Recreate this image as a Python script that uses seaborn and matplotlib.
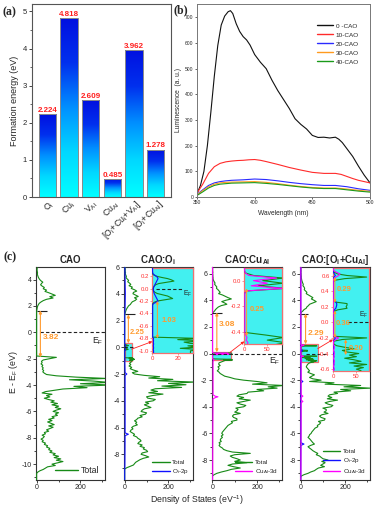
import numpy as np
import pandas as pd
import matplotlib
matplotlib.use('Agg')
import matplotlib.pyplot as plt
import matplotlib.transforms as mtransforms
import seaborn as sns
from matplotlib.colors import LinearSegmentedColormap
from matplotlib.patches import Rectangle
from matplotlib.lines import Line2D
from matplotlib.ticker import MultipleLocator, FormatStrFormatter

sns.set_style('ticks')
plt.rcParams['font.family'] = ['Liberation Sans', 'DejaVu Sans']
plt.rcParams['mathtext.fontset'] = 'custom'
plt.rcParams['mathtext.rm'] = 'Liberation Sans'
plt.rcParams['mathtext.it'] = 'Liberation Sans:italic'
plt.rcParams['mathtext.bf'] = 'Liberation Sans:bold'
plt.rcParams['mathtext.default'] = 'regular'
plt.rcParams['axes.unicode_minus'] = False

# ---------------- (a) formation energies ----------------
defects = [r'O$_i$', r'Cu$_i$', r'V$_{Al}$', r'Cu$_{Al}$',
           r'[O$_i$+Cu$_i$+V$_{Al}$]', r'[O$_i$+Cu$_{Al}$]']
formation_energy = [2.224, 4.818, 2.609, 0.485, 3.962, 1.278]
formation_labels = ['2.224', '4.818', '2.609', '0.485', '3.962', '1.278']

# ---------------- (b) luminescence ----------------
pl_names = ['0 -CAO', '10-CAO', '20-CAO', '30-CAO', '40-CAO']
wl_0cao = [350, 353, 356, 359, 362, 365, 368, 371, 374, 377, 379, 381, 384, 387,
           390, 393, 396, 400, 405, 410, 415, 420, 425, 430, 435, 440, 445, 450,
           455, 460, 465, 470, 473, 476, 480, 485, 490, 495, 500]
pl_0cao = [13, 45, 100, 200, 330, 470, 590, 670, 705, 722, 726, 715, 675, 645,
           625, 612, 592, 555, 525, 500, 455, 415, 380, 345, 305, 283, 265, 240,
           232, 233, 230, 233, 225, 212, 188, 158, 120, 85, 55]
wl_10cao = [350, 355, 360, 365, 370, 375, 380, 385, 390, 395, 400, 405, 410, 420,
            430, 440, 450, 460, 470, 475, 480, 485, 490, 495, 500]
pl_10cao = [15, 50, 92, 118, 131, 137, 140, 142, 143, 145, 146, 143, 138, 127,
            115, 105, 96, 92, 92, 88, 80, 72, 65, 60, 55]
wl_low = [350, 355, 360, 365, 370, 375, 380, 390, 400, 410, 420, 430, 440, 450,
          460, 470, 480, 490, 500]
pl_20cao = [10, 28, 45, 55, 60, 63, 65, 67, 70, 68, 63, 57, 52, 48, 45, 45, 40, 32, 26]
pl_30cao = [8, 25, 40, 50, 55, 57, 58, 59, 60, 57, 52, 46, 41, 37, 35, 35, 31, 26, 22]
pl_40cao = [6, 20, 35, 45, 50, 52, 54, 55, 56, 53, 49, 44, 39, 35, 33, 33, 28, 23, 19]
pl_colors = ['#111111', '#FF2a2a', '#2a2aFF', '#FF9a1e', '#1a9a1a']

# ---------------- (c) density of states ----------------
panel_titles = ['CAO', r'CAO:O$_\mathbf{i}$', r'CAO:Cu$_\mathbf{Al}$',
                r'CAO:[O$_\mathbf{i}$+Cu$_\mathbf{Al}$]']
gap_values = ['3.82', '2.25', '3.08', '2.29']
cbm_energy = [1.65, 2.45, 3.08, 3.00]
gap_bottom = [-1.90, 0.30, 0.10, 0.70]

# panel 1: CAO (total), 0.1 eV steps
cao_tot_cb = [3, 2, 2, 3, 4, 3, 5, 7, 10, 14, 20, 28, 22, 18, 25, 35, 30, 45, 38, 55,
              70, 85, 60, 75, 45, 30, 20, 12, 8, 5, 3, 2, 1, 0]          # from 4.9 eV
cao_tot_vb = [0, 90, 60, 30, 22, 25, 20, 28, 24, 30, 26, 32, 28, 35, 45, 90, 180, 320,
              150, 260, 330, 200, 340, 170, 230, 120, 80, 40, 25, 70, 45, 60, 35, 55,
              80, 65, 95, 70, 100, 85, 110, 90, 75, 100, 85, 95, 70, 80, 55, 70, 50,
              65, 80, 55, 75, 60, 45, 55, 35, 40, 25, 35, 30, 20, 30, 25, 40, 35, 50,
              45, 60, 55, 70, 60, 85, 75, 100, 80, 110, 90, 120, 95, 70, 85, 50, 40,
              30, 15, 5, 0, 0]                                             # from -1.8 eV

# panel 2: CAO:Oi
oi_tot_cb = [3, 2, 3, 2, 4, 3, 5, 8, 6, 12, 18, 14, 22, 28, 20, 35, 30, 45, 55, 40, 38,
             50, 62, 45, 55, 48, 35, 30, 26, 18, 14, 10, 7, 5, 3, 1, 0]    # from 6.0 eV
oi_tot_gap = ([0, 0, 0, 0, 1, 3, 7, 12, 15, 17, 11, 5, 2.5, 1.5, 1, 0.8, 0.8, 1, 2, 4,
               8, 12, 14, 16, 10, 4, 1.5, 0.5] + [0] * 27 +
              [36, 20, 40, 25, 30, 45, 28, 35, 22, 38, 30])                # 0.30 eV, 0.02 steps
oi_tot_vb = [30, 22, 28, 20, 32, 25, 40, 60, 35, 45, 90, 160, 110, 220, 150, 320, 200,
             280, 170, 260, 140, 120, 150, 110, 175, 130, 100, 105, 140, 130, 95, 110,
             90, 105, 120, 90, 80, 75, 100, 95, 70, 80, 60, 55, 45, 55, 50, 58, 40, 32,
             38, 28, 25, 35, 45, 40, 55, 60, 70, 75, 65, 60, 80, 70, 90, 85, 100, 105,
             80, 75, 95, 110, 85, 70, 60, 50, 45, 40, 25, 10, 0]         # from -1.1 eV
oi_p_cb_E = [6.0, 5.0, 4.0, 3.0, 2.4]
oi_p_cb = [1, 2, 3, 2, 0.5]
oi_p_gap = ([0.2, 0.2, 0.3, 0.5, 1.5, 3, 4, 4.5, 4, 3.5, 3, 2.5, 2, 1.5, 1, 0.8, 0.8, 1,
             1.2, 1.5, 2, 2.5, 3, 3.5, 4, 4.5, 3, 1, 0.3] + [0.3] * 26 +
            [1, 0.8, 1, 0.8, 1, 1, 0.8, 1, 1, 0.8, 1])
oi_p_vb_E = [-1.1, -1.9, -2.0, -2.1, -4.0, -6.4, -6.5, -6.6, -9.0, -9.1, -9.9]
oi_p_vb = [1, 2, 10, 2, 2, 2, 17, 2, 1, 0.3, 0.3]

# panel 3: CAO:CuAl
cual_tot_cb = [1, 1, 1, 1, 2, 1, 2, 2, 3, 3, 5, 8, 12, 10, 15, 20, 18, 25, 30, 35, 28,
               45, 57, 70, 85, 60, 42, 55, 65, 40, 27, 20, 14, 10, 4, 0]   # from 6.5 eV
cual_tot_gap = ([0, 0, 2, 20, 85, 40, 85, 30, 90, 5] + [0] * 16 +
                [45, 85, 50, 90, 60])                                      # 0.10 eV, 0.02 steps
cual_tot_vb = [45, 30, 28, 35, 25, 30, 28, 22, 30, 35, 45, 55, 80, 100, 140, 200, 245,
               180, 320, 250, 290, 200, 230, 160, 155, 120, 110, 140, 120, 170, 140,
               110, 125, 150, 140, 105, 115, 110, 100, 125, 95, 90, 95, 110, 110, 85,
               90, 80, 70, 65, 60, 55, 50, 45, 42, 48, 40, 45, 38, 35, 40, 30, 35, 30,
               35, 45, 50, 65, 90, 170, 100, 80, 90, 110, 125, 100, 155, 90, 70, 95,
               125, 85, 65, 40, 20, 8, 0]                                  # from -0.6 eV
cual_d_cb_E = [6.5, 5.0, 4.0, 3.0, 0.12]
cual_d_cb = [1, 1.5, 2, 1, 1]
cual_d_gap = [0.5, 0.5, 2, 10, 70, 20, 50, 15, 85, 3] + [1] * 16 + [3, 6, 4, 8, 5]
cual_d_vb_E = [-0.6, -2.0, -3.1, -3.2, -3.25, -3.3, -3.4, -6.0, -9.2, -9.5]
cual_d_vb = [3, 3, 3, 12, 25, 15, 3, 2, 1.5, 1]

# panel 4: CAO:[Oi+CuAl]
c4_tot_cb = [1, 1, 1, 2, 1, 2, 2, 3, 3, 4, 5, 7, 9, 12, 10, 15, 18, 16, 22, 28, 25, 35,
             45, 55, 48, 60, 70, 55, 40, 35, 28, 25, 15, 10, 3, 0]       # from 6.5 eV
c4_tot_gap = ([0, 0, 1, 3, 10, 30, 72, 25, 5, 1] + [0] * 12 + [5, 30, 30, 28, 30, 10, 2] +
              [0] * 15 +
              [5, 72, 20, 3, 1, 2, 8, 25, 45, 20, 30, 55, 35, 50, 25, 45, 60, 35, 72,
               45, 65, 50, 60])                                            # 0.70 eV, 0.02 steps
c4_tot_vb = [40, 32, 28, 25, 30, 35, 40, 32, 45, 62, 50, 40, 55, 92, 40, 150, 110, 270,
             195, 314, 180, 225, 150, 166, 130, 123, 140, 120, 166, 130, 110, 123, 145,
             137, 100, 115, 115, 105, 123, 95, 85, 92, 110, 107, 80, 90, 85, 75, 77, 65,
             60, 55, 50, 47, 40, 38, 33, 40, 45, 50, 55, 62, 45, 33, 40, 48, 55, 65, 77,
             70, 85, 92, 100, 123, 95, 110, 100, 90, 107, 80, 70, 62, 45, 33, 15, 3, 0]
c4_p_cb_E = [6.5, 3.0]
c4_p_cb = [0.5, 0.5]
c4_p_gap = ([0.3, 0.3, 0.5, 1, 3, 5, 2, 0.5, 0.3, 0.3] + [0.3] * 11 + [2] +
            [6, 8, 8, 7, 6, 3, 1] + [0.3] * 15 +
            [2, 5, 3, 1, 0.5, 0.5, 1, 2, 1, 1, 2, 1, 1, 2, 1, 1, 2, 1, 2, 1, 1, 2, 1])
c4_p_vb_E = [-0.7, -2.0, -2.1, -2.2, -6.7, -6.8, -6.9, -9.3, -9.5]
c4_p_vb = [1, 1, 10, 1, 1, 15, 1, 0.5, 0.3]
c4_d_cb_E = [6.5, 3.0]
c4_d_cb = [1, 1]
c4_d_gap = ([0.5, 0.5, 2, 8, 15, 12, 6, 2, 0.5, 0.5] + [0.5] * 34 +
            [3, 12, 6, 2, 1, 1, 2, 3, 2, 1, 2, 3, 2, 2, 1, 2, 3, 2, 2, 1, 2, 2, 1])
c4_d_vb_E = [-0.7, -3.1, -3.2, -3.3, -3.5, -3.6, -3.7, -9.3, -9.5]
c4_d_vb = [2, 2, 10, 2, 2, 10, 2, 1, 0.5]


def grid(top, step, vals):
    return [round(top - step * i, 3) for i in range(len(vals))]


E1 = grid(4.9, 0.1, cao_tot_cb) + grid(-1.8, 0.1, cao_tot_vb) + [-11.2]
D1 = cao_tot_cb + cao_tot_vb + [0]

E2 = grid(6.0, 0.1, oi_tot_cb) + grid(0.30, 0.02, oi_tot_gap) + grid(-1.1, 0.1, oi_tot_vb) + [-9.9]
D2 = oi_tot_cb + oi_tot_gap + oi_tot_vb + [0]
E2p = oi_p_cb_E + grid(0.30, 0.02, oi_p_gap) + oi_p_vb_E
D2p = oi_p_cb + oi_p_gap + oi_p_vb

E3 = grid(6.5, 0.1, cual_tot_cb) + grid(0.10, 0.02, cual_tot_gap) + grid(-0.6, 0.1, cual_tot_vb) + [-9.5]
D3 = cual_tot_cb + cual_tot_gap + cual_tot_vb + [0]
E3d = cual_d_cb_E + grid(0.10, 0.02, cual_d_gap) + cual_d_vb_E
D3d = cual_d_cb + cual_d_gap + cual_d_vb

E4 = grid(6.5, 0.1, c4_tot_cb) + grid(0.70, 0.02, c4_tot_gap) + grid(-0.7, 0.1, c4_tot_vb) + [-9.5]
D4 = c4_tot_cb + c4_tot_gap + c4_tot_vb + [0]
E4p = c4_p_cb_E + grid(0.70, 0.02, c4_p_gap) + c4_p_vb_E
D4p = c4_p_cb + c4_p_gap + c4_p_vb
E4d = c4_d_cb_E + grid(0.70, 0.02, c4_d_gap) + c4_d_vb_E
D4d = c4_d_cb + c4_d_gap + c4_d_vb

# ---------------- figure ----------------
W, H = 376, 507
fig = plt.figure(figsize=(W / 100, H / 100), dpi=100)
fig.patch.set_facecolor('white')


def box(l, t, r, b):
    return [l / W, 1 - b / H, (r - l) / W, (b - t) / H]


GREEN = '#178A17'
BLUE = '#1010FF'
MAGENTA = '#FF00FF'
CYAN = '#42F0F0'
SALMON = '#F07070'
ORANGE = '#FF9A2E'
SPINE = '#555555'

# ---- (a)
ax_a = fig.add_axes(box(32, 4, 171, 197))
df_a = pd.DataFrame({'defect': defects, 'Ef': formation_energy})
sns.barplot(data=df_a, x='defect', y='Ef', ax=ax_a, color='#0040F0', width=0.8,
            edgecolor='#8a8a8a', linewidth=0.7, saturation=1)
cmap_bar = LinearSegmentedColormap.from_list('bc', ['#00FFFF', '#00D8FF', '#0090FF', '#0030EE', '#0010E0'])
grad = np.linspace(0, 1, 256).reshape(-1, 1)
for p in list(ax_a.patches):
    x0, y0, w, h = p.get_x(), p.get_y(), p.get_width(), p.get_height()
    im = ax_a.imshow(grad, extent=[x0, x0 + w, y0, y0 + h], origin='lower', cmap=cmap_bar,
                     aspect='auto', zorder=2, interpolation='bilinear')
    im.set_clip_path(p)
    p.set_facecolor('none')
    p.set_zorder(3)
ax_a.bar_label(ax_a.containers[0], labels=formation_labels, color='#FF2020',
               fontsize=5.8, fontweight='bold', padding=0.3)
ax_a.set_xlim(-0.7, 5.7)
ax_a.set_ylim(0, 5.2)
ax_a.set_yticks([0, 1, 2, 3, 4, 5])
ax_a.yaxis.set_minor_locator(MultipleLocator(0.5))
ax_a.set_xlabel('')
ax_a.set_ylabel('Formation energy (eV)', fontsize=6.5, labelpad=3)
ax_a.tick_params(axis='y', labelsize=5.5, length=2, width=0.6, pad=1.5)
ax_a.tick_params(axis='y', which='minor', length=1.2, width=0.5)
ax_a.tick_params(axis='x', length=0, pad=2)
ax_a.set_xticks(range(len(defects)))
ax_a.set_xticklabels(defects, rotation=45, ha='right', va='center',
                     rotation_mode='anchor', fontsize=6.3)
offs = mtransforms.ScaledTranslation(4 / 72, -2 / 72, fig.dpi_scale_trans)
for lab in ax_a.get_xticklabels():
    lab.set_transform(lab.get_transform() + offs)
for s in ax_a.spines.values():
    s.set_color(SPINE)
    s.set_linewidth(0.8)

# ---- (b)
ax_b = fig.add_axes(box(197, 4, 370, 197))
frames = [pd.DataFrame({'wl': wl_0cao, 'pl': pl_0cao, 'sample': pl_names[0]}),
          pd.DataFrame({'wl': wl_10cao, 'pl': pl_10cao, 'sample': pl_names[1]}),
          pd.DataFrame({'wl': wl_low, 'pl': pl_20cao, 'sample': pl_names[2]}),
          pd.DataFrame({'wl': wl_low, 'pl': pl_30cao, 'sample': pl_names[3]}),
          pd.DataFrame({'wl': wl_low, 'pl': pl_40cao, 'sample': pl_names[4]})]
df_b = pd.concat(frames, ignore_index=True)
sns.lineplot(data=df_b, x='wl', y='pl', hue='sample', hue_order=pl_names,
             palette=pl_colors, estimator=None, lw=0.8, ax=ax_b)
ax_b.set_xlim(350, 500)
ax_b.set_ylim(0, 752)
ax_b.set_xticks([350, 400, 450, 500])
ax_b.set_yticks([0, 100, 200, 300, 400, 500, 600, 700])
ax_b.tick_params(labelsize=3.6, length=1.5, width=0.5, pad=1)
ax_b.set_xlabel('Wavelength (nm)', fontsize=4.8, labelpad=3)
ax_b.set_ylabel('Luminescence  (a. u.)', fontsize=4.8, labelpad=2)
for s in ax_b.spines.values():
    s.set_color('#777777')
    s.set_linewidth(0.7)
leg = ax_b.legend(loc='upper right', bbox_to_anchor=(0.97, 0.93), frameon=False,
                  fontsize=4.6, handlelength=2.4, labelspacing=0.55, handletextpad=0.5)
for ln in leg.get_lines():
    ln.set_linewidth(1.0)

# ---- (c)
c_rects = [box(36, 267, 105, 480), box(124, 267, 193, 480),
           box(211.7, 267, 282, 480), box(300, 267, 370, 480)]
ylims = [(-11.2, 4.95), (-9.92, 6.0), (-9.5, 6.5), (-9.5, 6.5)]
c_axes = [fig.add_axes(r) for r in c_rects]


def style_main(ax, ylim):
    ax.set_xlim(-3, 312)
    ax.set_ylim(*ylim)
    ax.set_xticks([0, 200])
    ax.xaxis.set_minor_locator(MultipleLocator(100))
    ax.yaxis.set_major_locator(MultipleLocator(2))
    ax.yaxis.set_minor_locator(MultipleLocator(1))
    ax.tick_params(which='both', labelsize=5, length=2, width=0.6, pad=1)
    ax.tick_params(which='minor', length=1.2)
    for s in ax.spines.values():
        s.set_linewidth(0.8)
        s.set_color('#333333')
    ax.set_xlabel('')
    ax.set_ylabel('')


def draw(ax, x, y, col, lw=0.8, z=3):
    sns.lineplot(x=x, y=y, sort=False, estimator=None, color=col, lw=lw, ax=ax, zorder=z)


series = [
    [(D1, E1, GREEN)],
    [(D2, E2, GREEN), (D2p, E2p, BLUE)],
    [(D3, E3, GREEN), (D3d, E3d, MAGENTA)],
    [(D4, E4, GREEN), (D4p, E4p, BLUE), (D4d, E4d, MAGENTA)],
]
legend_sets = [
    [('Total', GREEN)],
    [('Total', GREEN), (r'O$_i$-2p', BLUE)],
    [('Total', GREEN), (r'Cu$_{Al}$-3d', MAGENTA)],
    [('Total', GREEN), (r'O$_i$-2p', BLUE), (r'Cu$_{Al}$-3d', MAGENTA)],
]
gap_arrow_x = [17, 17, 20, 22]
gap_text_pos = [(27, -0.42), (21, 1.12), (27, 2.2), (32, 1.5)]
cbm_len = [47, 45, 42, 35]
inset_rects = [None, box(152.3, 268, 193, 352.7), box(244.3, 267.7, 282, 344),
               box(333, 267.7, 369.5, 370.7)]
inset_xlims = [None, (0, 32), (0, 82), (0, 78)]
inset_ylims = [None, (-1.03, 0.33), (-0.49, 0.10), (-0.62, 0.70)]
inset_yticks = [None, [0.2, 0.0, -0.2, -0.4, -0.6, -0.8, -1.0], [0.0, -0.2, -0.4],
                [0.6, 0.4, 0.2, 0.0, -0.2, -0.4, -0.6]]
inset_xticks = [None, [0, 20], [0, 50], [0, 50]]

for i, ax in enumerate(c_axes):
    style_main(ax, ylims[i])
    for x, y, col in series[i]:
        draw(ax, x, y, col)
    ax.set_title(panel_titles[i], fontsize=7, fontweight='bold', pad=3)
    # CBM marker and gap arrow
    ax.hlines(cbm_energy[i], 0, cbm_len[i], color='#222222', lw=0.8, zorder=4)
    ax.annotate('', xy=(gap_arrow_x[i], cbm_energy[i]), xytext=(gap_arrow_x[i], gap_bottom[i]),
                arrowprops=dict(arrowstyle='<|-|>', color=ORANGE, lw=0.8,
                                mutation_scale=4, shrinkA=0, shrinkB=0), zorder=5)
    ax.text(gap_text_pos[i][0], gap_text_pos[i][1], gap_values[i], color=ORANGE,
            fontsize=5.4 if i == 1 else 6, fontweight='bold', va='center', ha='left', zorder=6)
    fs = 6.3 if i == 0 else 4.6
    handles = [Line2D([], [], color=c, lw=1.0) for _, c in legend_sets[i]]
    ax.legend(handles, [l for l, _ in legend_sets[i]], loc='lower right', frameon=False,
              fontsize=fs, handlelength=2.6 if i == 0 else 2.8, labelspacing=0.35,
              handletextpad=0.4, borderaxespad=0.2)
    if inset_rects[i] is not None:
        xl, yl = inset_xlims[i], inset_ylims[i]
        ax.add_patch(Rectangle((0, yl[0]), xl[1], yl[1] - yl[0], facecolor=CYAN,
                               edgecolor=SALMON, lw=0.9, zorder=2))

# E_F reference lines and labels in the main panels
c_axes[0].axhline(0, xmin=0.06, xmax=1, ls=(0, (3, 2)), color='#222222', lw=0.8, zorder=4)
c_axes[0].text(252, -0.65, r'E$_F$', fontsize=6.3, va='center', ha='left')
c_axes[1].axhline(0, xmin=0.0, xmax=0.13, ls=(0, (3, 2)), color='#222222', lw=0.8, zorder=4)
c_axes[2].axhline(0, xmin=0.0, xmax=1, ls=(0, (3, 2)), color='#222222', lw=0.8, zorder=4)
c_axes[2].text(252, -0.55, r'E$_F$', fontsize=6.3, va='center', ha='left')
c_axes[3].axhline(0, xmin=0.08, xmax=0.4, ls=(0, (3, 2)), color='#222222', lw=0.8, zorder=4)

# insets
inset_axes = {}
for i in (1, 2, 3):
    axi = fig.add_axes(inset_rects[i])
    axi.set_facecolor(CYAN)
    for x, y, col in series[i]:
        draw(axi, x, y, col)
    axi.set_xlim(*inset_xlims[i])
    axi.set_ylim(*inset_ylims[i])
    axi.set_xticks(inset_xticks[i])
    axi.set_yticks(inset_yticks[i])
    axi.yaxis.set_major_formatter(FormatStrFormatter('%.1f'))
    axi.tick_params(labelsize=4.3, length=1.5, width=0.5, pad=1, color=SALMON,
                    labelcolor='#FF3030')
    for s in axi.spines.values():
        s.set_color(SALMON)
        s.set_linewidth(0.9)
    axi.set_xlabel('')
    axi.set_ylabel('')
    inset_axes[i] = axi

arrow_kw = dict(arrowstyle='<|-|>', color=ORANGE, lw=0.7, mutation_scale=3.5, shrinkA=0, shrinkB=0)
# inset 2
a2 = inset_axes[1]
a2.axhline(0, xmin=0.1, xmax=0.72, ls=(0, (3, 2)), color='#222222', lw=0.8)
a2.text(24, -0.09, r'E$_F$', fontsize=4.8, va='center')
a2.annotate('', xy=(4, -0.2), xytext=(4, -0.8), arrowprops=arrow_kw)
a2.text(7, -0.52, '1.03', color=ORANGE, fontsize=5.5, fontweight='bold', va='center')
# inset 3
a3 = inset_axes[2]
a3.annotate('', xy=(5, -0.06), xytext=(5, -0.43), arrowprops=arrow_kw)
a3.text(12, -0.22, '0.25', color=ORANGE, fontsize=5.5, fontweight='bold', va='center')
# inset 4
a4 = inset_axes[3]
a4.axhline(0, xmin=0.4, xmax=1, ls=(0, (3, 2)), color='#222222', lw=0.8)
a4.text(55, 0.09, r'E$_F$', fontsize=4.8, va='center')
a4.annotate('', xy=(4, 0.58), xytext=(4, 0.25), arrowprops=arrow_kw)
a4.text(8, 0.42, '0.29', color=ORANGE, fontsize=5.5, fontweight='bold', va='center')
a4.annotate('', xy=(4, 0.15), xytext=(4, -0.2), arrowprops=arrow_kw)
a4.text(6, -0.01, '0.36', color=ORANGE, fontsize=5.5, fontweight='bold', va='center')
a4.annotate('', xy=(27, -0.22), xytext=(27, -0.42), arrowprops=arrow_kw)
a4.text(33, -0.33, '0.20', color=ORANGE, fontsize=5.5, fontweight='bold', va='center')

# red pointer arrows from zoom boxes to insets
red_kw = dict(arrowstyle='-|>', color='#FF2020', lw=0.6, mutation_scale=4, shrinkA=0, shrinkB=0)
a2.annotate('', xy=(0, -0.85), xycoords=a2.transData, xytext=(32, -0.14),
            textcoords=c_axes[1].transData, arrowprops=red_kw, annotation_clip=False)
a3.annotate('', xy=(0, -0.47), xycoords=a3.transData, xytext=(80, 0.1),
            textcoords=c_axes[2].transData, arrowprops=red_kw, annotation_clip=False)
a4.annotate('', xy=(0, -0.22), xycoords=a4.transData, xytext=(77, 0.37),
            textcoords=c_axes[3].transData, arrowprops=red_kw, annotation_clip=False)

# shared labels
fig.text(13 / W, 1 - 372 / H, r'E - E$_F$ (eV)', rotation=90, fontsize=6.3, ha='center', va='center')
fig.text(197 / W, 1 - 500 / H, r'Density of States (eV$^{-1}$)', fontsize=6.3, ha='center', va='center')

# panel letters
for txt, (px, py) in [('(a)', (3, 12)), ('(b)', (174, 10)), ('(c)', (4, 257))]:
    fig.text(px / W, 1 - py / H, txt, fontsize=8.5, fontweight='bold',
             family='Liberation Serif', ha='left', va='center')

fig.savefig('out.png', dpi=100, facecolor='white')
